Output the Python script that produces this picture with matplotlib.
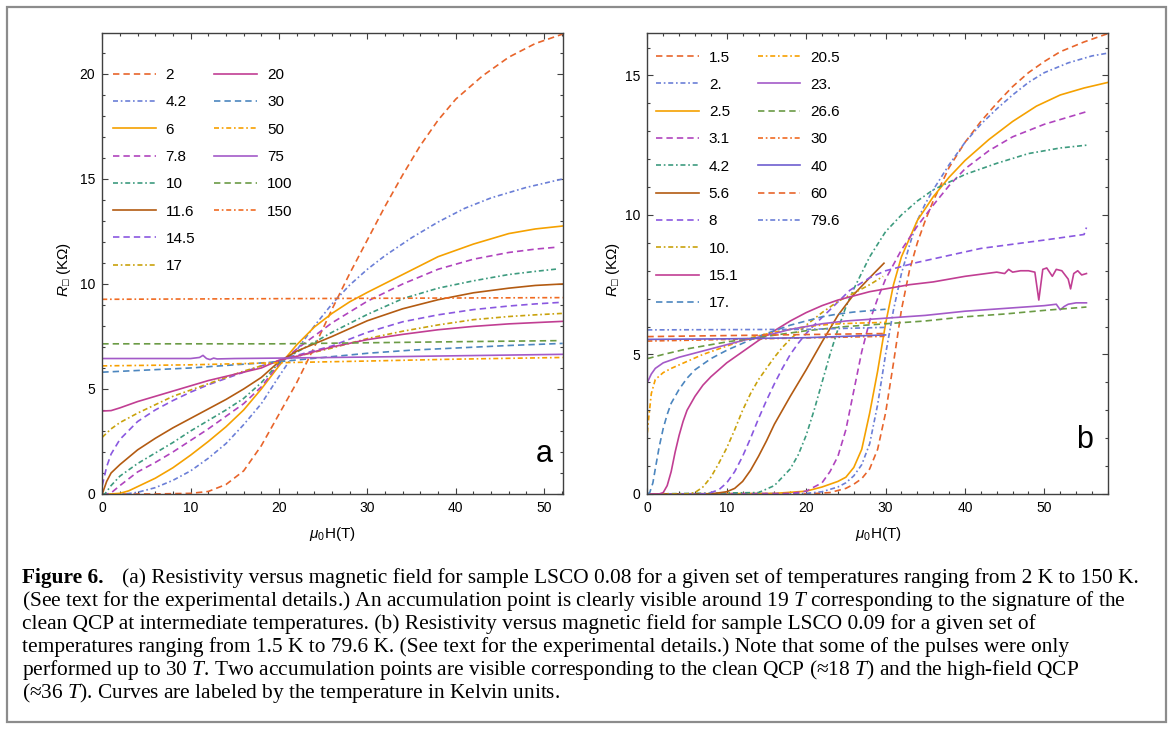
import matplotlib
matplotlib.use("Agg")
import matplotlib.pyplot as plt
from matplotlib.lines import Line2D
from matplotlib.patches import Rectangle
from matplotlib.ticker import MultipleLocator

plt.rcParams["font.family"] = ["Liberation Sans", "DejaVu Sans"]
plt.rcParams["mathtext.fontset"] = "custom"
plt.rcParams["mathtext.rm"] = "Liberation Serif"
plt.rcParams["mathtext.it"] = "Liberation Serif:italic"
plt.rcParams["mathtext.sf"] = "Liberation Sans:italic"
plt.rcParams["mathtext.tt"] = "Liberation Sans"
plt.rcParams["lines.scale_dashes"] = False

# ---------------- panel a : LSCO 0.08 ----------------
labels_a = ["2", "4.2", "6", "7.8", "10", "11.6", "14.5", "17",
            "20", "30", "50", "75", "100", "150"]

h_a_2 = [0, 6, 10, 12, 14, 16, 18, 20, 22, 24, 26, 28, 30, 32, 34, 36, 38, 40, 43, 46, 49, 52.1]
r_a_2 = [0, 0, 0.03, 0.12, 0.45, 1.1, 2.3, 3.8, 5.3, 7.0, 8.8, 10.5, 12.1, 13.7, 15.2, 16.6, 17.8,
         18.8, 19.9, 20.8, 21.45, 21.9]
h_a_4 = [0, 2, 3, 4, 6, 8, 10, 12, 14, 16, 18, 20, 22, 24, 26, 28, 30, 32, 35, 38, 41, 44, 48, 52.1]
r_a_4 = [0, 0, 0.02, 0.08, 0.3, 0.65, 1.1, 1.7, 2.4, 3.3, 4.3, 5.6, 6.85, 8.0, 9.05, 9.95, 10.7,
         11.35, 12.2, 12.95, 13.6, 14.1, 14.6, 15.0]
h_a_6 = [0, 1, 2, 3, 4, 6, 8, 10, 12, 14, 16, 18, 20, 22, 24, 26, 28, 30, 34, 38, 42, 46, 49, 52.1]
r_a_6 = [0, 0, 0.03, 0.15, 0.35, 0.75, 1.25, 1.85, 2.5, 3.2, 4.0, 5.0, 6.1, 7.1, 7.95, 8.6, 9.15,
         9.6, 10.45, 11.3, 11.9, 12.4, 12.62, 12.76]
h_a_78 = [0, 0.5, 1, 2, 4, 6, 8, 10, 12, 14, 16, 18, 20, 22, 26, 30, 34, 38, 42, 46, 49, 51.4]
r_a_78 = [0, 0, 0.05, 0.4, 1.05, 1.5, 2.0, 2.55, 3.1, 3.7, 4.3, 5.1, 6.2, 6.9, 8.15, 9.18, 10.0,
          10.7, 11.18, 11.5, 11.66, 11.75]
h_a_10 = [0, 0.3, 1, 2, 4, 6, 8, 10, 12, 14, 16, 18, 20, 22, 26, 30, 34, 38, 42, 46, 49, 51.4]
r_a_10 = [0, 0, 0.4, 0.85, 1.45, 1.95, 2.45, 3.0, 3.5, 4.0, 4.55, 5.3, 6.25, 6.75, 7.7, 8.55, 9.3,
          9.8, 10.15, 10.45, 10.6, 10.71]
h_a_116 = [0, 0.5, 1, 2, 4, 6, 8, 10, 12, 14, 16, 18, 20, 22, 26, 30, 34, 38, 42, 46, 49, 52.1]
r_a_116 = [0, 0.6, 1.0, 1.4, 2.1, 2.65, 3.15, 3.6, 4.05, 4.5, 5.0, 5.55, 6.3, 6.8, 7.5, 8.25,
           8.82, 9.25, 9.58, 9.8, 9.93, 10.0]
h_a_145 = [0, 0.5, 1, 2, 4, 6, 8, 10, 12, 14, 16, 18, 20, 22, 26, 30, 34, 38, 42, 46, 49, 52.1]
r_a_145 = [0.4, 1.3, 1.9, 2.6, 3.45, 4.0, 4.45, 4.85, 5.2, 5.5, 5.8, 6.1, 6.35, 6.6, 7.05, 7.7,
           8.2, 8.53, 8.78, 8.95, 9.05, 9.13]
h_a_17 = [0, 1, 2, 4, 6, 8, 10, 12, 14, 16, 18, 20, 22, 26, 30, 34, 38, 42, 46, 49, 52.1]
r_a_17 = [2.7, 3.1, 3.4, 3.85, 4.25, 4.65, 4.95, 5.25, 5.55, 5.85, 6.1, 6.35, 6.55, 6.95, 7.4,
          7.75, 8.05, 8.3, 8.45, 8.53, 8.6]
h_a_20 = [0, 1, 2, 4, 6, 8, 10, 12, 14, 16, 18, 20, 22, 26, 30, 34, 38, 42, 46, 49, 52.1]
r_a_20 = [3.95, 3.97, 4.1, 4.4, 4.65, 4.9, 5.15, 5.4, 5.6, 5.8, 6.0, 6.37, 6.55, 7.0, 7.35, 7.6,
          7.82, 7.98, 8.1, 8.16, 8.22]
h_a_30 = [0, 5, 10, 15, 20, 25, 30, 35, 40, 46, 52.1]
r_a_30 = [5.8, 5.9, 6.0, 6.15, 6.3, 6.5, 6.7, 6.85, 6.95, 7.07, 7.17]
h_a_50 = [0, 10, 20, 30, 40, 52.1]
r_a_50 = [6.1, 6.15, 6.25, 6.33, 6.42, 6.5]
h_a_75 = [0, 5, 10, 11, 11.4, 11.8, 12.2, 12.6, 13, 15, 20, 30, 40, 52.1]
r_a_75 = [6.45, 6.45, 6.45, 6.5, 6.6, 6.45, 6.4, 6.47, 6.43, 6.45, 6.47, 6.52, 6.58, 6.65]
h_a_100 = [0, 20, 30, 40, 51.4]
r_a_100 = [7.15, 7.15, 7.2, 7.25, 7.3]
h_a_150 = [0, 52.1]
r_a_150 = [9.27, 9.35]

# ---------------- panel b : LSCO 0.09 ----------------
labels_b = ["1.5", "2.", "2.5", "3.1", "4.2", "5.6", "8", "10.", "15.1", "17.",
            "20.5", "23.", "26.6", "30", "40", "60", "79.6"]

h_b_15 = [0, 20, 23, 25, 26, 27, 28, 29, 30, 31, 32, 33, 34, 35, 36, 38, 40, 42, 44, 46, 48, 50,
          52, 55, 58]
r_b_15 = [0, 0, 0.05, 0.2, 0.35, 0.55, 0.9, 1.6, 2.9, 4.7, 6.6, 8.0, 9.0, 9.8, 10.5, 11.7, 12.6,
          13.35, 14.0, 14.6, 15.1, 15.5, 15.85, 16.2, 16.5]
h_b_2 = [0, 20, 22, 24, 25, 26, 27, 28, 29, 30, 31, 32, 33, 34, 35, 36, 38, 40, 42, 44, 46, 48,
         50, 53, 56, 58]
r_b_2 = [0, 0.02, 0.08, 0.25, 0.4, 0.65, 1.05, 1.8, 3.2, 5.0, 6.6, 7.9, 8.9, 9.8, 10.4, 10.9,
         11.8, 12.6, 13.25, 13.8, 14.3, 14.75, 15.1, 15.45, 15.7, 15.8]
h_b_25 = [0, 16, 20, 22, 24, 25, 26, 27, 28, 29, 30, 31, 32, 34, 36, 38, 40, 43, 46, 49, 52, 55, 58]
r_b_25 = [0, 0.02, 0.1, 0.25, 0.45, 0.6, 0.95, 1.6, 2.9, 4.4, 6.1, 7.5, 8.5, 9.8, 10.65, 11.35,
          11.95, 12.7, 13.35, 13.9, 14.3, 14.55, 14.75]
h_b_31 = [0, 18, 20, 22, 23, 24, 25, 26, 27, 28, 29, 30, 32, 34, 36, 38, 40, 43, 46, 50, 55.3]
r_b_31 = [0, 0.02, 0.1, 0.4, 0.8, 1.35, 2.3, 3.7, 5.1, 6.2, 7.0, 7.7, 8.75, 9.6, 10.35, 11.05,
          11.65, 12.3, 12.8, 13.25, 13.7]
h_b_42 = [0, 14, 16, 18, 19, 20, 21, 22, 23, 24, 25, 26, 28, 30, 32, 34, 36, 40, 44, 48, 52, 55.3]
r_b_42 = [0, 0.05, 0.3, 0.9, 1.4, 2.1, 3.0, 4.0, 5.0, 5.9, 6.7, 7.35, 8.5, 9.4, 10.0, 10.5, 10.9,
          11.45, 11.85, 12.2, 12.4, 12.5]
h_b_56 = [0, 8, 10, 11, 12, 13, 14, 15, 16, 18, 20, 22, 24, 26, 28, 29.8]
r_b_56 = [0, 0, 0.08, 0.2, 0.45, 0.85, 1.35, 1.9, 2.5, 3.5, 4.45, 5.45, 6.4, 7.15, 7.75, 8.27]
h_b_8 = [0, 7, 8, 9, 10, 11, 12, 13, 14, 15, 16, 17, 18, 19, 20, 21, 23, 25.5, 28, 30, 34, 38,
         42, 46, 50, 55, 55.3]
r_b_8 = [0, 0, 0.05, 0.15, 0.4, 0.8, 1.35, 2.0, 2.7, 3.35, 3.95, 4.5, 5.0, 5.4, 5.75, 6.05, 6.6,
         7.3, 7.75, 8.0, 8.3, 8.55, 8.8, 8.95, 9.1, 9.3, 9.55]
h_b_10 = [0, 5, 6, 7, 8, 9, 10, 11, 12, 13, 14, 15, 16, 17, 18, 20, 22, 24, 26, 28, 29.7]
r_b_10 = [0, 0, 0.05, 0.25, 0.6, 1.1, 1.65, 2.3, 3.0, 3.6, 4.1, 4.5, 4.9, 5.25, 5.55, 6.05, 6.5,
          6.9, 7.2, 7.5, 7.8]
h_b_151 = [0, 1.5, 2, 2.5, 3, 3.5, 4, 4.5, 5, 6, 7, 8, 10, 12, 14, 16, 18, 20, 22, 24, 26, 28,
           30, 33, 36, 40, 44, 45, 45.5, 46, 47, 48, 48.8, 49.3, 49.8, 50.3, 51, 51.5, 52.2, 53,
           53.3, 53.7, 54.2, 54.7, 55.3]
r_b_151 = [0, 0, 0.05, 0.3, 0.8, 1.5, 2.1, 2.6, 3.0, 3.5, 3.9, 4.2, 4.7, 5.1, 5.5, 5.85, 6.2, 6.5,
           6.75, 6.95, 7.1, 7.25, 7.35, 7.5, 7.6, 7.8, 7.95, 7.9, 8.05, 7.95, 8.0, 8.0, 7.95, 6.95,
           8.05, 8.1, 7.8, 8.05, 8.0, 7.7, 7.35, 7.9, 8.0, 7.85, 7.9]
h_b_17 = [0, 0.3, 0.7, 1, 1.5, 2, 2.5, 3, 4, 5, 6, 8, 10, 12, 14, 16, 18, 20, 22, 24, 26, 28, 30]
r_b_17 = [0, 0.05, 0.4, 0.9, 1.7, 2.35, 2.85, 3.25, 3.75, 4.15, 4.45, 4.85, 5.15, 5.4, 5.65,
          5.85, 6.05, 6.2, 6.35, 6.45, 6.52, 6.57, 6.62]
h_b_205 = [0, 0.2, 0.5, 1, 2, 3, 5, 7, 10, 13, 16, 18, 20, 23, 26, 30]
r_b_205 = [2.2, 2.8, 3.6, 4.1, 4.35, 4.5, 4.75, 5.0, 5.3, 5.6, 5.8, 5.9, 6.0, 6.08, 6.12, 6.15]
h_b_23 = [0, 0.5, 1, 2, 4, 6, 8, 10, 12, 14, 16, 18, 20, 22, 25, 30, 35, 40, 45, 50, 51.5, 52,
          52.5, 53, 54, 55.3]
r_b_23 = [4.0, 4.3, 4.5, 4.7, 4.9, 5.05, 5.2, 5.35, 5.5, 5.62, 5.75, 5.9, 6.0, 6.1, 6.2, 6.3, 6.4,
          6.55, 6.65, 6.75, 6.8, 6.6, 6.72, 6.8, 6.85, 6.85]
h_b_266 = [0, 2, 5, 10, 15, 20, 25, 30, 35, 40, 45, 50, 55.3]
r_b_266 = [4.85, 5.0, 5.2, 5.45, 5.65, 5.85, 6.0, 6.1, 6.2, 6.35, 6.45, 6.58, 6.7]
h_b_30 = [0, 30]
r_b_30 = [5.48, 5.65]
h_b_40 = [0, 10, 20, 30]
r_b_40 = [5.54, 5.56, 5.6, 5.7]
h_b_60 = [0, 30]
r_b_60 = [5.64, 5.75]
h_b_796 = [0, 20, 30]
r_b_796 = [5.88, 5.9, 5.97]

curves_a = [(h_a_2, r_a_2), (h_a_4, r_a_4), (h_a_6, r_a_6), (h_a_78, r_a_78),
            (h_a_10, r_a_10), (h_a_116, r_a_116), (h_a_145, r_a_145), (h_a_17, r_a_17),
            (h_a_20, r_a_20), (h_a_30, r_a_30), (h_a_50, r_a_50), (h_a_75, r_a_75),
            (h_a_100, r_a_100), (h_a_150, r_a_150)]
curves_b = [(h_b_15, r_b_15), (h_b_2, r_b_2), (h_b_25, r_b_25), (h_b_31, r_b_31),
            (h_b_42, r_b_42), (h_b_56, r_b_56), (h_b_8, r_b_8), (h_b_10, r_b_10),
            (h_b_151, r_b_151), (h_b_17, r_b_17), (h_b_205, r_b_205), (h_b_23, r_b_23),
            (h_b_266, r_b_266), (h_b_30, r_b_30), (h_b_40, r_b_40), (h_b_60, r_b_60),
            (h_b_796, r_b_796)]

# style cycle (colour list of 15, dash cycle of 3)
palette = ["#E8652B", "#6B7FD7", "#F5A100", "#B044BE", "#3D9B7F", "#B35B12", "#8A58E0",
           "#C9A20C", "#C13E93", "#4C86BF", "#F7A000", "#A35AC8", "#6B9B45", "#F06B22",
           "#6E5FD0"]
dash_cycle = [(0, (4.6, 2.9)), (0, (3.6, 2.0, 1.2, 2.0)), "-"]

fig = plt.figure(figsize=(11.74, 7.29), dpi=100)
fig.patches.append(Rectangle((0.006, 0.0096), 0.987, 0.981, transform=fig.transFigure,
                             fill=False, edgecolor="#8c8c8c", linewidth=1.6))

ax_a = fig.add_axes([0.0871, 0.3224, 0.3922, 0.6323])
ax_b = fig.add_axes([0.5514, 0.3224, 0.3927, 0.6323])


def draw_panel(ax, curves, labels, xmax, ymax, rows, leg_xy, ylab_xy, letter, letter_xy):
    handles = []
    for i, (h, r) in enumerate(curves):
        ln, = ax.plot(h, r, color=palette[i % 15], linestyle=dash_cycle[i % 3],
                      linewidth=1.2, label=labels[i])
        handles.append(ln)
    blanks = 2 * rows - len(handles)
    handles += [Line2D([], [], color="none") for _ in range(blanks)]
    names = labels + [""] * blanks
    ax.legend(handles, names, loc="upper left", bbox_to_anchor=leg_xy, ncol=2,
              frameon=False, fontsize=11, handlelength=2.8, handletextpad=0.65,
              columnspacing=1.25, labelspacing=0.87, borderpad=0, borderaxespad=0)
    ax.set_xlim(0, xmax)
    ax.set_ylim(0, ymax)
    ax.xaxis.set_major_locator(MultipleLocator(10))
    ax.xaxis.set_minor_locator(MultipleLocator(2))
    ax.yaxis.set_major_locator(MultipleLocator(5))
    ax.yaxis.set_minor_locator(MultipleLocator(1))
    ax.tick_params(which="both", direction="in", top=True, right=True, colors="#404040",
                   labelcolor="black", labelsize=10, width=0.8)
    ax.tick_params(which="major", length=4.5, pad=5)
    ax.tick_params(which="minor", length=2.3)
    for sp in ax.spines.values():
        sp.set_color("#404040")
        sp.set_linewidth(1.0)
    ax.set_xlabel(r"$\mathsf{\mu}_{\mathtt{0}}$H(T)", fontsize=11, labelpad=7)
    ax.set_ylabel(r"$\mathsf{R}_{\mathtt{□}}$ (KΩ)", fontsize=11)
    ax.yaxis.set_label_coords(*ylab_xy)
    ax.text(letter_xy[0], letter_xy[1], letter, transform=ax.transAxes, fontsize=22,
            ha="center", va="baseline")


draw_panel(ax_a, curves_a, labels_a, 52.1, 21.95, 8, (0.023, 0.924),
           (-0.063, 0.487), "a", (0.959, 0.069))
draw_panel(ax_b, curves_b, labels_b, 58.06, 16.52, 10, (0.019, 0.962),
           (-0.055, 0.487), "b", (0.949, 0.099))

# caption
cap = dict(family="Liberation Serif", fontsize=15.4, va="baseline", ha="left")
fig.text(22 / 1174, 1 - 583 / 729, "Figure 6.", fontweight="bold", **cap)
fig.text(122 / 1174, 1 - 583 / 729,
         "(a) Resistivity versus magnetic field for sample LSCO 0.08 for a given set of "
         "temperatures ranging from 2 K to 150 K.", **cap)
caption_lines = [
    "(See text for the experimental details.) An accumulation point is clearly visible around "
    "19 $T$ corresponding to the signature of the",
    "clean QCP at intermediate temperatures. (b) Resistivity versus magnetic field for sample "
    "LSCO 0.09 for a given set of",
    "temperatures ranging from 1.5 K to 79.6 K. (See text for the experimental details.) Note "
    "that some of the pulses were only",
    "performed up to 30 $T$. Two accumulation points are visible corresponding to the clean QCP "
    "(≈18 $T$) and the high-field QCP",
    "(≈36 $T$). Curves are labeled by the temperature in Kelvin units.",
]
for k, line in enumerate(caption_lines):
    fig.text(22 / 1174, 1 - (606 + 23 * k) / 729, line, **cap)

fig.savefig("out.png", dpi=100)
